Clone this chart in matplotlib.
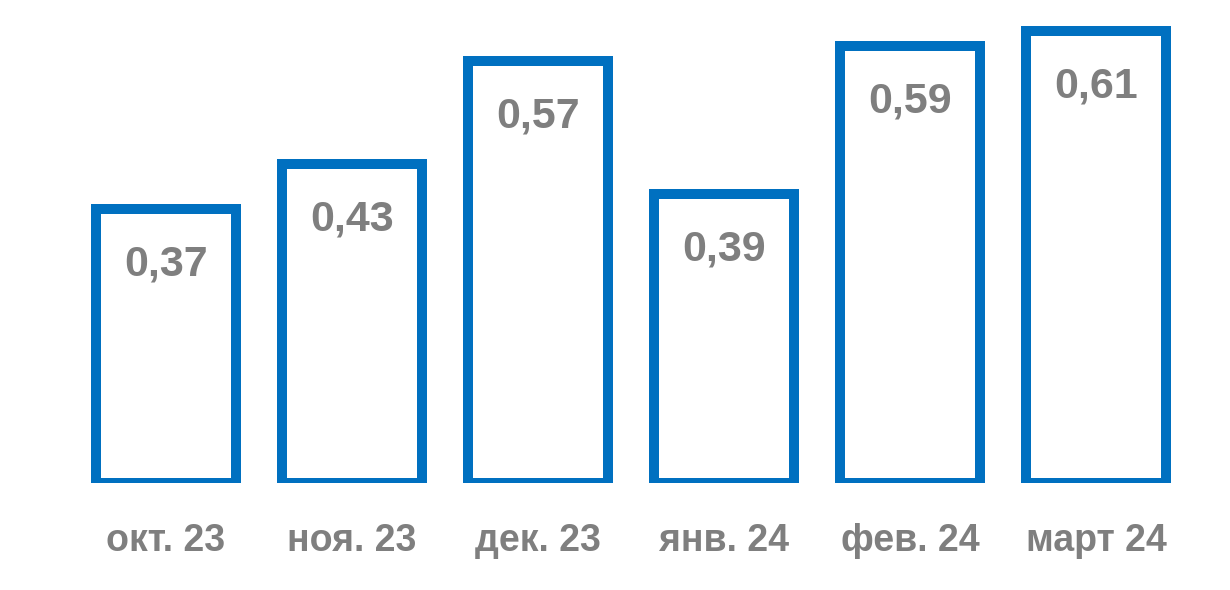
import matplotlib
matplotlib.use('Agg')
import matplotlib.pyplot as plt
import numpy as np

categories = ['окт. 23', 'ноя. 23', 'дек. 23', 'янв. 24', 'фев. 24', 'март 24']
values = [0.37, 0.43, 0.57, 0.39, 0.59, 0.61]
labels = ['0,37', '0,43', '0,57', '0,39', '0,59', '0,61']

blue = '#0070C0'
gray = '#7F7F7F'
plt.rcParams['font.family'] = ['Liberation Sans', 'DejaVu Sans']

fig = plt.figure(figsize=(12.3, 5.9), dpi=100)
ax = fig.add_axes([0, 1 - 483 / 590, 1, 483 / 590])

x = np.arange(len(categories))
ax.bar(x, values, width=0.75, facecolor='white', edgecolor=blue, linewidth=7.2)

# value labels sit inside the bar, just under its top edge
for xi, v, lab in zip(x, values, labels):
    ax.annotate(lab, (xi, v), xytext=(0, -40), textcoords='offset points',
                ha='center', va='center', fontsize=31, fontweight='bold', color=gray)

ax.set_xlim(-166 / 186, (1230 - 166) / 186)
ax.set_ylim(0, 483 / 741)
ax.set_xticks(x)
ax.set_xticklabels(categories, fontsize=27, fontweight='bold', color=gray)
ax.tick_params(axis='x', length=0, pad=29)
ax.set_yticks([])
for s in ax.spines.values():
    s.set_visible(False)

fig.savefig('out.png', dpi=100)
